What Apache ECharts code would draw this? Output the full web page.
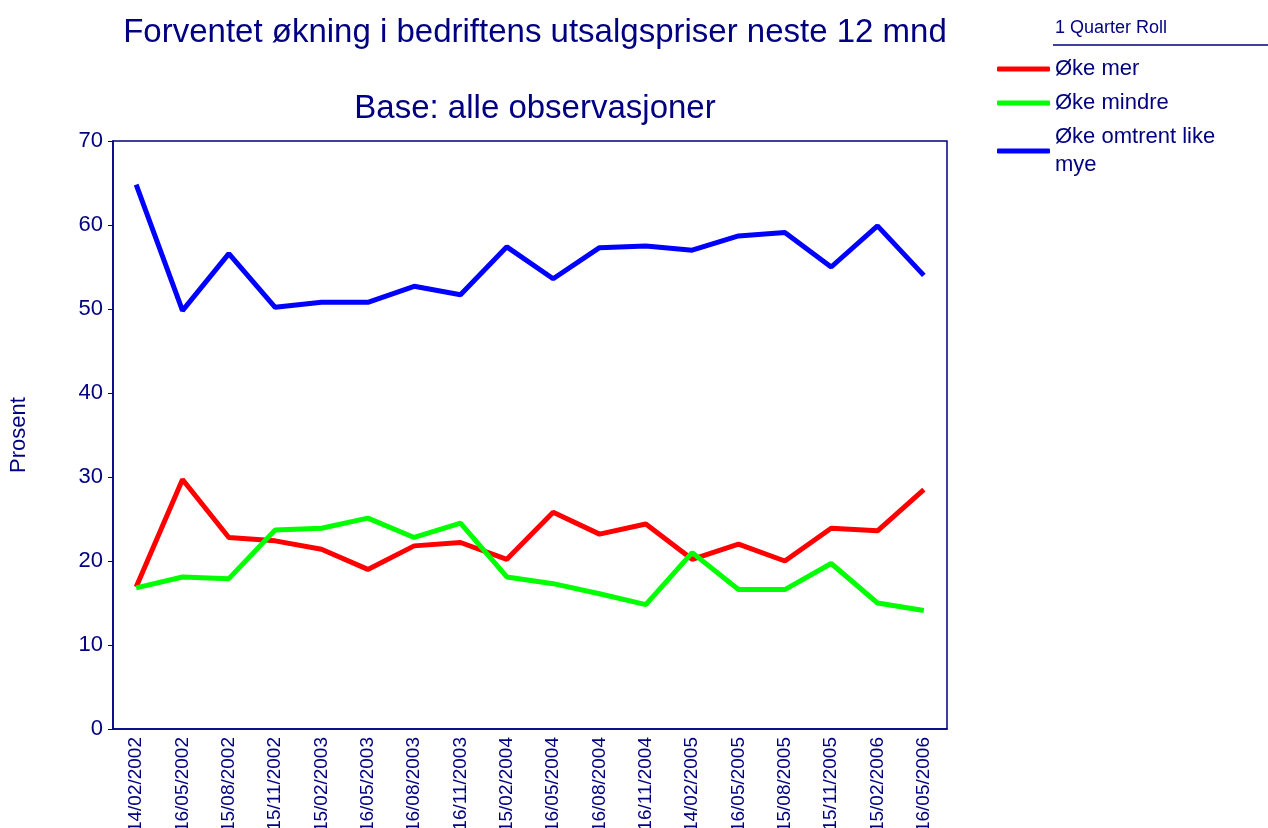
<!DOCTYPE html>
<html>
<head>
<meta charset="utf-8">
<script src="https://cdn.jsdelivr.net/npm/echarts@6/dist/echarts.min.js"></script>
<style>
html,body{margin:0;padding:0;background:#fff;}
#chart{width:1268px;height:828px;}
</style>
</head>
<body>
<div id="chart"></div>
<script>
const categories = ['14/02/2002','16/05/2002','15/08/2002','15/11/2002','15/02/2003','16/05/2003','16/08/2003','16/11/2003','15/02/2004','16/05/2004','16/08/2004','16/11/2004','14/02/2005','16/05/2005','15/08/2005','15/11/2005','15/02/2006','16/05/2006'];
const okeMer = [16.9,29.7,22.8,22.4,21.4,19.0,21.8,22.2,20.2,25.8,23.2,24.4,20.2,22.0,20.0,23.9,23.6,28.5];
const okeMindre = [16.8,18.1,17.9,23.7,23.9,25.1,22.8,24.5,18.1,17.3,16.1,14.8,21.0,16.6,16.6,19.7,15.0,14.1];
const okeLike = [64.8,49.8,56.6,50.2,50.8,50.8,52.7,51.7,57.4,53.6,57.3,57.5,57.0,58.7,59.1,55.0,59.9,54.0];
const yTicks = {min:0, max:70, interval:10};

const navy = '#000080';
const font = '"Liberation Sans", Arial, sans-serif';
const chart = echarts.init(document.getElementById('chart'));
chart.setOption({
  animation:false,
  backgroundColor:'#fff',
  title:[
    {text:'Forventet økning i bedriftens utsalgspriser neste 12 mnd', left:530, top:11, textAlign:'center',
     textStyle:{color:navy, fontSize:33, fontWeight:'normal', fontFamily:font}},
    {text:'Base: alle observasjoner', left:530, top:87, textAlign:'center',
     textStyle:{color:navy, fontSize:33, fontWeight:'normal', fontFamily:font}}
  ],
  legend:{
    orient:'vertical', left:997, top:55, padding:0, itemWidth:53, itemHeight:5, itemGap:6,
    icon:'roundRect',
    formatter: n => n === 'Øke omtrent like mye' ? 'Øke omtrent like\nmye' : n,
    textStyle:{color:navy, fontSize:22, fontFamily:font, lineHeight:28},
    data:['Øke mer','Øke mindre','Øke omtrent like mye']
  },
  graphic:[
    {type:'text', left:1055, top:19, style:{text:'1 Quarter Roll', fill:navy, fontSize:18, fontFamily:font}},
    {type:'line', shape:{x1:1053, y1:45, x2:1268, y2:45}, style:{stroke:navy, lineWidth:1.5}}
  ],
  grid:{left:113, right:321, top:141, bottom:99, outerBoundsMode:'none', containLabel:false, show:true, borderColor:navy, borderWidth:1.5, backgroundColor:'#fff'},
  xAxis:{
    type:'category', data:categories, boundaryGap:true,
    axisLine:{lineStyle:{color:navy, width:1.5}},
    axisTick:{alignWithLabel:true, length:5, lineStyle:{color:navy}},
    axisLabel:{rotate:90, color:navy, fontSize:19, fontFamily:font, margin:8, interval:0}
  },
  yAxis:{
    type:'value', min:yTicks.min, max:yTicks.max, interval:yTicks.interval,
    name:'Prosent', nameLocation:'middle', nameGap:83, nameRotate:90,
    nameTextStyle:{color:navy, fontSize:22, fontFamily:font},
    axisLine:{show:true, lineStyle:{color:navy, width:1.5}},
    axisTick:{show:true, length:5, lineStyle:{color:navy}},
    splitLine:{show:false},
    axisLabel:{color:navy, fontSize:22, fontFamily:font, margin:10}
  },
  series:[
    {name:'Øke mer', type:'line', data:okeMer, showSymbol:false, symbol:'none', color:'#ff0000', lineStyle:{width:5, color:'#ff0000'}},
    {name:'Øke mindre', type:'line', data:okeMindre, showSymbol:false, symbol:'none', color:'#00ff00', lineStyle:{width:5, color:'#00ff00'}},
    {name:'Øke omtrent like mye', type:'line', data:okeLike, showSymbol:false, symbol:'none', color:'#0000ff', lineStyle:{width:5, color:'#0000ff'}}
  ]
});
</script>
</body>
</html>
